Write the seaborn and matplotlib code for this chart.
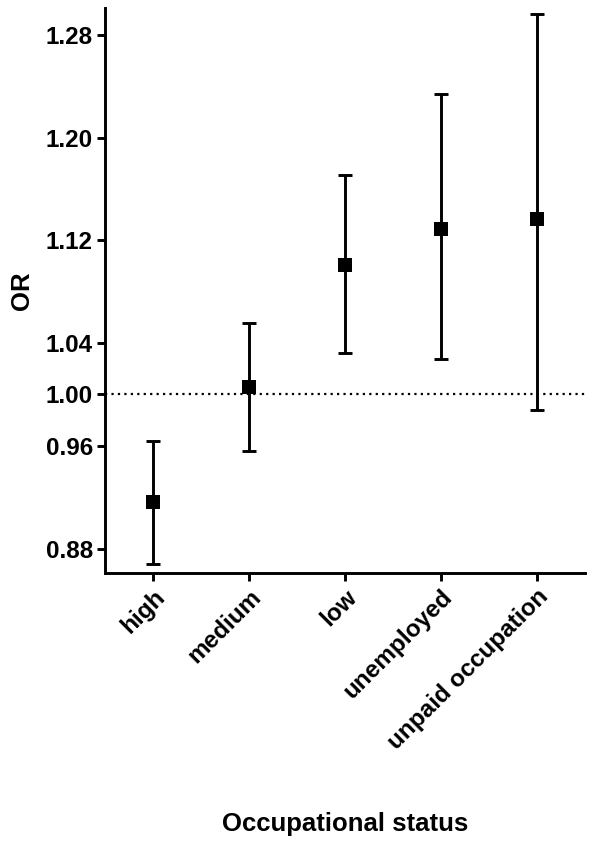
import numpy as np
import pandas as pd
import matplotlib
matplotlib.use("Agg")
import matplotlib.pyplot as plt
import matplotlib.transforms as mtransforms
import seaborn as sns

# values
status = ["high", "medium", "low", "unemployed", "unpaid occupation"]
odds_ratio = [0.916, 1.006, 1.101, 1.129, 1.137]
ci_lower = [0.868, 0.956, 1.032, 1.028, 0.988]
ci_upper = [0.964, 1.056, 1.171, 1.234, 1.296]
y_ticks = [0.88, 0.96, 1.00, 1.04, 1.12, 1.20, 1.28]

df = pd.DataFrame({"status": status, "OR": odds_ratio,
                   "lo": ci_lower, "hi": ci_upper})
df["pos"] = np.arange(len(df))

sns.set_theme(style="ticks", rc={'text.color': 'black', 'axes.labelcolor': 'black',
                                 'xtick.color': 'black', 'ytick.color': 'black',
                                 'axes.edgecolor': 'black'})
plt.rcParams['font.family'] = ['Liberation Sans', 'DejaVu Sans']
plt.rcParams['font.weight'] = 'bold'

fig = plt.figure(figsize=(6.01, 8.49), dpi=100)
ax = fig.add_axes([0.1747, 0.3251, 0.7987, 0.6655])

ax.axhline(1.0, color='black', linewidth=1.6, linestyle=(0, (1.0, 1.9)), zorder=1)

ax.errorbar(df["pos"], df["OR"],
            yerr=[df["OR"] - df["lo"], df["hi"] - df["OR"]],
            fmt='none', ecolor='black', elinewidth=2.1, capsize=4.8,
            capthick=2.1, zorder=2)

sns.scatterplot(data=df, x="pos", y="OR", marker='s', s=100, color='black',
                edgecolor='black', linewidth=0, ax=ax, zorder=3, legend=False)

ax.set_xlim(-0.5, 4.5)
ax.set_ylim(0.861, 1.301)
ax.set_yticks(y_ticks)
ax.set_yticklabels(["%.2f" % v for v in y_ticks], fontsize=17.5, fontweight='bold')
ax.set_xticks(df["pos"])
ax.set_xticklabels(status, rotation=45, ha='right', rotation_mode='anchor',
                   fontsize=17.5, fontweight='bold')
shift = mtransforms.ScaledTranslation(-9 / 100, -5 / 100, fig.dpi_scale_trans)
for lab in ax.get_xticklabels():
    lab.set_transform(lab.get_transform() + shift)

ax.set_xlabel("Occupational status", fontsize=18.5, fontweight='bold')
ax.xaxis.set_label_coords(0.5, -0.423)
ax.set_ylabel("OR", fontsize=18.5, fontweight='bold')
ax.yaxis.set_label_coords(-0.148, 0.5)

sns.despine(ax=ax)
for side in ['left', 'bottom']:
    ax.spines[side].set_linewidth(2.1)
ax.tick_params(axis='both', width=2.1, length=5.8, color='black', pad=3)

fig.savefig("out.png", dpi=100)
